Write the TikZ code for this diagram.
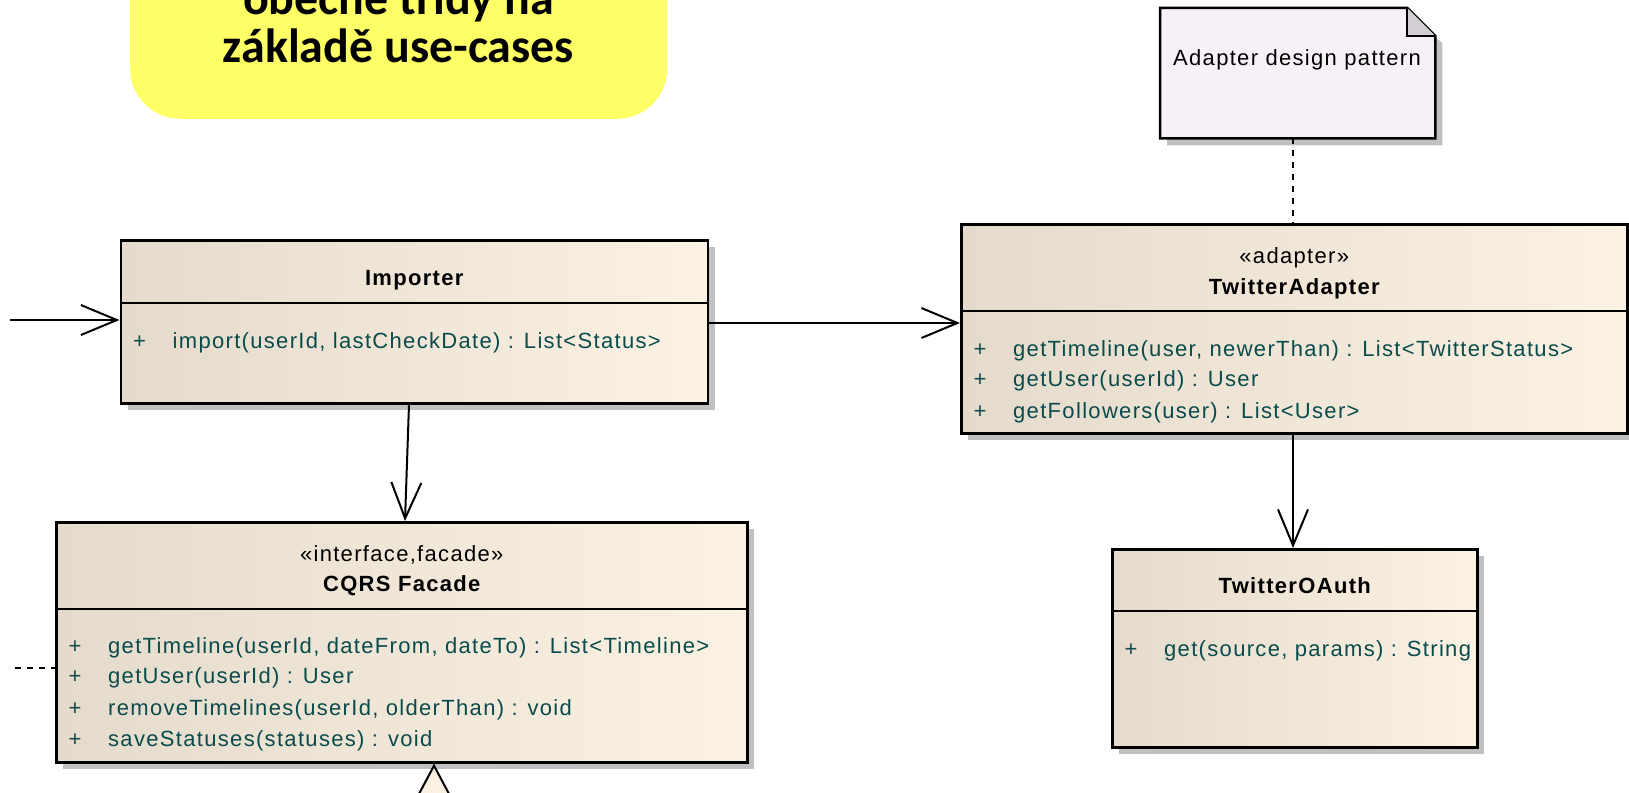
\documentclass[tikz,border=0pt]{standalone}
\usepackage{fontspec}
\setmainfont{Liberation Sans}
\newfontfamily\umlfont[LetterSpace=6]{Liberation Sans}
\newfontfamily\bannerfont{Carlito}
\usetikzlibrary{arrows.meta,shadows,calc}
\definecolor{boxL}{RGB}{228,219,204}
\definecolor{boxR}{RGB}{251,242,228}
\definecolor{methc}{RGB}{10,75,75}
\definecolor{notefill}{RGB}{246,241,246}
\definecolor{notefold}{RGB}{212,207,212}
\definecolor{shadowc}{RGB}{192,192,192}
\definecolor{bannerc}{RGB}{255,255,102}
\definecolor{creamc}{RGB}{250,241,226}
\begin{document}
\begin{tikzpicture}[x=1pt,y=-1pt,
  classbox/.style={draw=black, line width=2.5pt, left color=boxL, right color=boxR,
    anchor=north west, inner sep=0pt,
    drop shadow={shadow xshift=7pt, shadow yshift=-7pt, fill=shadowc, opacity=1}},
  divider/.style={line width=2pt},
  mtext/.style={font=\umlfont\fontsize{22}{26}\selectfont, text=methc, anchor=base west, inner sep=0pt},
  plus/.style={font=\umlfont\fontsize{22}{26}\selectfont, text=methc, anchor=base, inner sep=0pt},
  cname/.style={font=\umlfont\bfseries\fontsize{22}{26}\selectfont, anchor=base, inner sep=0pt},
  stereo/.style={font=\umlfont\fontsize{22}{26}\selectfont, anchor=base, inner sep=0pt},
  assoc/.style={line width=2pt, -{Straight Barb[length=36pt, width=30pt, line width=2pt]}},
  gen/.style={line width=2pt, -{Triangle[length=40pt, width=42pt, fill=creamc, line width=2pt]}},
  notelink/.style={line width=2pt, dash pattern=on 6pt off 6pt},
  deplink/.style={line width=2pt, dash pattern=on 6pt off 6pt},
  bannertext/.style={font=\bannerfont\bfseries\fontsize{48}{48}\selectfont, anchor=base, inner sep=0pt}
]
\useasboundingbox (0,0) rectangle (1629,792);
\clip (0,0) rectangle (1629,792);

% banner
\node[fill=bannerc, rounded corners=50pt, minimum width=537pt, minimum height=260pt, anchor=south west, inner sep=0pt] (banner) at (130,119) {};
\node[bannertext] (b1) at (398.5,15) {obecné třídy na};
\node[bannertext] (b2) at (398.5,63) {základě use-cases};

% note
\node[anchor=north west, minimum width=275pt, minimum height=130pt, inner sep=0pt] (note) at (1160,8) {};
\fill[shadowc] ($(note.north west)+(7,7)$) -- ($(note.north east)+(-28,7)$) -- ($(note.north east)+(7,35)$) -- ($(note.south east)+(7,7)$) -- ($(note.south west)+(7,7)$) -- cycle;
\draw[line width=2.5pt, fill=notefill] (note.north west) -- ($(note.north east)+(-28,0)$) -- ($(note.north east)+(0,28)$) -- (note.south east) -- (note.south west) -- cycle;
\draw[line width=2pt, fill=notefold, line join=miter] ($(note.north east)+(-28,0)$) -- ($(note.north east)+(-28,28)$) -- ($(note.north east)+(0,28)$);
\node[stereo] (notetext) at (1297,65) {Adapter design pattern};

% Importer
\node[classbox, minimum width=587pt, minimum height=163pt] (imp) at (119.5,239) {};
\draw[divider] (imp.west |- 0,303) -- (imp.east |- 0,303);
\node[cname] (impn) at (imp.center |- 0,285) {Importer};
\node[plus] (imp1p) at (139.5,348) {+};
\node[mtext] (imp1) at (172.5,348) {import(userId, lastCheckDate) : List<Status>};

% TwitterAdapter
\node[classbox, minimum width=666pt, minimum height=209pt] (ta) at (960,223) {};
\draw[divider] (ta.west |- 0,311) -- (ta.east |- 0,311);
\node[stereo] (tas) at (ta.center |- 0,263) {«adapter»};
\node[cname] (tan) at (ta.center |- 0,294) {TwitterAdapter};
\node[plus] (ta1p) at (980,356) {+};
\node[mtext] (ta1) at (1013,356) {getTimeline(user, newerThan) : List<TwitterStatus>};
\node[plus] (ta2p) at (980,386) {+};
\node[mtext] (ta2) at (1013,386) {getUser(userId) : User};
\node[plus] (ta3p) at (980,418) {+};
\node[mtext] (ta3) at (1013,418) {getFollowers(user) : List<User>};

% TwitterOAuth
\node[classbox, minimum width=365pt, minimum height=198pt] (oa) at (1111,548) {};
\draw[divider] (oa.west |- 0,611) -- (oa.east |- 0,611);
\node[cname] (oan) at (oa.center |- 0,593) {TwitterOAuth};
\node[plus] (oa1p) at (1131,656) {+};
\node[mtext] (oa1) at (1164,656) {get(source, params) : String};

% CQRS Facade
\node[classbox, minimum width=691pt, minimum height=240pt] (cq) at (55,521) {};
\draw[divider] (cq.west |- 0,609) -- (cq.east |- 0,609);
\node[stereo] (cqs) at (cq.center |- 0,561) {«interface,facade»};
\node[cname] (cqn) at (cq.center |- 0,591) {CQRS Facade};
\node[plus] (cq1p) at (75,653) {+};
\node[mtext] (cq1) at (108,653) {getTimeline(userId, dateFrom, dateTo) : List<Timeline>};
\node[plus] (cq2p) at (75,683) {+};
\node[mtext] (cq2) at (108,683) {getUser(userId) : User};
\node[plus] (cq3p) at (75,715) {+};
\node[mtext] (cq3) at (108,715) {removeTimelines(userId, olderThan) : void};
\node[plus] (cq4p) at (75,746) {+};
\node[mtext] (cq4) at (108,746) {saveStatuses(statuses) : void};

% connectors
\coordinate (inL) at (10,320);
\draw[assoc] (inL) -- (inL -| imp.west);
\draw[assoc] (imp.east |- 0,323) -- (ta.west |- 0,323);
\draw[assoc] (ta.south -| 1293,0) -- (oa.north -| 1293,0);
\draw[assoc] (imp.south -| 409,0) -- (cq.north -| 405,0);
\draw[notelink] (note.south -| 1293,0) -- (ta.north -| 1293,0);
\coordinate (depL) at (15,668);
\draw[deplink] (depL) -- (depL -| cq.west);
\coordinate (genB) at (434,860);
\draw[gen] (genB) -- (genB |- cq.south);
\end{tikzpicture}
\end{document}
